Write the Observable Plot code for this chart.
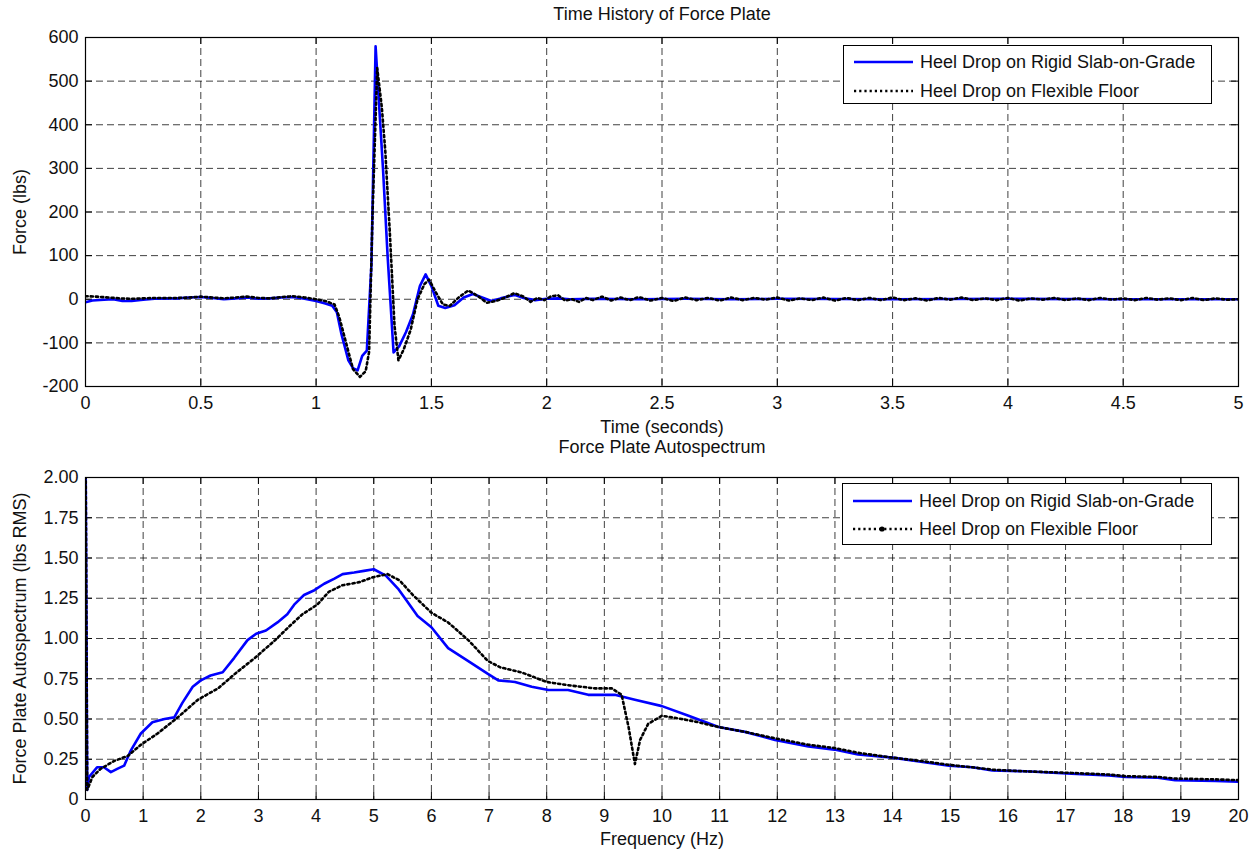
<!DOCTYPE html>
<html>
<head>
<meta charset="utf-8">
<script src="https://cdn.jsdelivr.net/npm/d3@7"></script>
<script src="https://cdn.jsdelivr.net/npm/@observablehq/plot@0.6"></script>
<style>
  html, body { margin: 0; padding: 0; background: #fff; }
  #root { position: relative; width: 1253px; height: 852px; font-family: "Liberation Sans", Arial, Helvetica, sans-serif; }
  .chart { position: absolute; left: 0; }
  .legend { position: absolute; background: #fff; border: 1.3px solid #000; box-sizing: border-box; font-size: 18px; color: #111; }
  .legend .row { position: absolute; left: 0; height: 24px; line-height: 24px; white-space: nowrap; }
  .legend svg { position: absolute; left: 0; top: 0; }
  .legend span { position: absolute; left: 76px; }
</style>
</head>
<body>
<div id="root"></div>
<script>
// ---------- Top chart: time history of force plate ----------
const seriesNames = ["Heel Drop on Rigid Slab-on-Grade", "Heel Drop on Flexible Floor"];

const rigidTime = [0, 0.03, 0.08, 0.12, 0.16, 0.2, 0.25, 0.3, 0.4, 0.45, 0.5, 0.55, 0.6, 0.65, 0.7, 0.75, 0.8, 0.85, 0.9, 0.95,
  1.0, 1.04, 1.07, 1.09, 1.11, 1.14, 1.16, 1.18, 1.2, 1.22, 1.24, 1.258, 1.275, 1.29, 1.31, 1.336, 1.36, 1.39, 1.42, 1.45,
  1.475, 1.5, 1.53, 1.56, 1.6, 1.64, 1.68, 1.72, 1.76, 1.8, 1.86, 1.9, 1.95, 2.0, 2.05, 2.1, 2.2, 2.4, 2.6, 2.8, 3.0, 3.5, 4.0, 4.5, 5.0];
const rigidForce = [-7, -3, -1, 0, -4, -4, -1, 1, 2, 4, 5, 3, 0, 2, 4, 1, 2, 4, 5, 1,
  -4, -10, -15, -30, -80, -140, -158, -163, -130, -118, 80, 580, 430, 300, 100, -122, -108, -75, -35, 30,
  57, 30, -15, -20, -14, 4, 12, 4, -4, 2, 10, 3, -2, 1, 2, 0, 1, 0, 1, 0, 1, 0, 1, 0, 0];

const flexTime = [0, 0.05, 0.1, 0.15, 0.2, 0.25, 0.3, 0.4, 0.45, 0.5, 0.55, 0.6, 0.65, 0.7, 0.75, 0.8, 0.85, 0.9, 0.95,
  1.0, 1.04, 1.08, 1.1, 1.13, 1.16, 1.19, 1.215, 1.23, 1.245, 1.265, 1.285, 1.3, 1.32, 1.34, 1.357, 1.38, 1.41, 1.44, 1.47,
  1.49, 1.52, 1.55, 1.58, 1.62, 1.66, 1.7, 1.74, 1.78, 1.82, 1.86, 1.9, 1.93, 1.96, 1.99, 2.02, 2.05, 2.08, 2.11, 2.14,
  2.17, 2.2, 2.24, 2.28, 2.32, 2.36, 2.4, 2.45, 2.5, 2.55, 2.6, 2.65, 2.7, 2.75, 2.8, 2.85, 2.9, 2.95, 3.0, 3.05, 3.1,
  3.15, 3.2, 3.25, 3.3, 3.35, 3.4, 3.45, 3.5, 3.55, 3.6, 3.65, 3.7, 3.75, 3.8, 3.85, 3.9, 3.95, 4.0, 4.05, 4.1, 4.15,
  4.2, 4.25, 4.3, 4.35, 4.4, 4.45, 4.5, 4.55, 4.6, 4.65, 4.7, 4.75, 4.8, 4.85, 4.9, 4.95, 5.0];
const flexForce = [7, 6, 4, 2, 1, 2, 3, 3, 4, 6, 4, 2, 4, 6, 3, 2, 5, 7, 4,
  0, -4, -12, -40, -100, -160, -178, -165, -120, 200, 530, 440, 340, 150, -60, -140, -115, -70, 0, 35,
  45, 15, -12, -15, 5, 20, 8, -8, -4, 4, 14, 6, -6, 3, -2, 7, 9, -3, 0, -6,
  3, -2, 6, -3, 4, -2, 5, -3, 3, -4, 4, -2, 3, -3, 4, -2, 3, -1, 4, -3, 2,
  -2, 4, -3, 3, -2, 3, -2, 4, -2, 2, -3, 3, -1, 4, -2, 2, -2, 3, -3, 2, -1,
  3, -2, 2, -2, 3, -1, 2, -2, 3, -1, 2, -2, 3, -2, 2, -1, 0];

const timeTicks = [0, 0.5, 1, 1.5, 2, 2.5, 3, 3.5, 4, 4.5, 5];
const forceTicks = [-200, -100, 0, 100, 200, 300, 400, 500, 600];

// ---------- Bottom chart: autospectrum ----------
const rigidFreq = [0, 0.03, 0.06, 0.2, 0.32, 0.44, 0.55, 0.67, 0.78, 0.96, 1.16, 1.37, 1.54, 1.68, 1.86, 2.0, 2.17, 2.38, 2.58,
  2.81, 2.96, 3.13, 3.33, 3.5, 3.62, 3.79, 3.97, 4.14, 4.31, 4.46, 4.66, 4.83, 5.0, 5.21, 5.42, 5.56, 5.76, 6.0, 6.29, 6.64,
  6.98, 7.16, 7.45, 7.74, 8.03, 8.37, 8.72, 9.18, 9.53, 10.0, 10.46, 10.98, 11.44, 11.96, 12.54, 12.99, 13.4, 14.0, 14.58,
  14.98, 15.38, 15.73, 16.3, 17.1, 17.75, 18.04, 18.6, 18.9, 19.6, 20];
const rigidAmp = [2.3, 0.06, 0.14, 0.2, 0.2, 0.17, 0.19, 0.21, 0.3, 0.41, 0.48, 0.5, 0.51, 0.6, 0.7, 0.74, 0.77, 0.79, 0.88,
  0.99, 1.03, 1.05, 1.1, 1.15, 1.21, 1.27, 1.3, 1.34, 1.37, 1.4, 1.41, 1.42, 1.43, 1.39, 1.31, 1.24, 1.14, 1.07, 0.94, 0.86,
  0.78, 0.74, 0.73, 0.7, 0.68, 0.68, 0.65, 0.65, 0.62, 0.58, 0.52, 0.45, 0.42, 0.37, 0.33, 0.31, 0.28, 0.26, 0.23,
  0.21, 0.2, 0.18, 0.175, 0.16, 0.15, 0.14, 0.135, 0.12, 0.115, 0.11];

const flexFreq = [0, 0.03, 0.12, 0.26, 0.5, 0.73, 0.96, 1.25, 1.6, 1.95, 2.3, 2.59, 2.94, 3.29, 3.52, 3.76, 4.02, 4.22, 4.45,
  4.75, 4.98, 5.24, 5.45, 5.68, 6.0, 6.29, 6.64, 6.98, 7.2, 7.56, 8.0, 8.37, 8.84, 9.13, 9.3, 9.42, 9.53, 9.62, 9.76, 10.0,
  10.34, 10.63, 10.98, 11.44, 11.96, 12.54, 12.99, 13.4, 14.0, 14.58, 14.98, 15.38, 15.73, 16.3, 17.1, 17.75, 18.04, 18.6,
  18.9, 19.6, 20];
const flexAmp = [2.3, 0.06, 0.14, 0.19, 0.24, 0.27, 0.34, 0.41, 0.51, 0.62, 0.69, 0.78, 0.88, 0.99, 1.07, 1.15, 1.21, 1.29, 1.33,
  1.35, 1.38, 1.4, 1.36, 1.27, 1.16, 1.1, 0.99, 0.86, 0.82, 0.79, 0.73, 0.71, 0.69, 0.69, 0.65, 0.45, 0.22, 0.37, 0.47, 0.52,
  0.5, 0.48, 0.45, 0.42, 0.38, 0.34, 0.32, 0.29, 0.26, 0.235, 0.215, 0.2, 0.185, 0.175, 0.165, 0.155, 0.145, 0.14,
  0.13, 0.125, 0.12];

const freqTicks = d3.range(0, 21);
const ampTicks = [0, 0.25, 0.5, 0.75, 1, 1.25, 1.5, 1.75, 2];

// ---------- build tables ----------
const rigidHistory = rigidTime.map((t, i) => ({t, f: rigidForce[i]}));
const flexHistory = flexTime.map((t, i) => ({t, f: flexForce[i]}));
const rigidSpec = rigidFreq.map((x, i) => ({x, y: rigidAmp[i]}));
const flexSpec = flexFreq.map((x, i) => ({x, y: flexAmp[i]}));

const FONT = '"Liberation Sans", Arial, Helvetica, sans-serif';
const BLUE = "#0000ff";
const gridStyle = {stroke: "#000", strokeOpacity: 0.75, strokeDasharray: "7,4", strokeWidth: 1};
const TICK = 7;

function makeChart({height, marginTop, marginBottom, xDomain, yDomain, xTicks, yTicks, yFormat,
                    data1, data2, xKey, yKey, title, xLabel, yLabel, titleDy, xLabelDy}) {
  const frameW = 1253 - 85 - 15;
  const frameH = height - marginTop - marginBottom;
  return Plot.plot({
    width: 1253, height, marginTop, marginBottom, marginLeft: 85, marginRight: 15,
    style: {fontFamily: FONT, fontSize: "18px", color: "#111", background: "#fff", overflow: "visible"},
    x: {domain: xDomain, ticks: xTicks, label: null},
    y: {domain: yDomain, ticks: yTicks, label: null},
    marks: [
      Plot.gridX(xTicks, gridStyle),
      Plot.gridY(yTicks, gridStyle),
      // inward tick marks on all four sides
      Plot.tickX(xTicks, {x: d => d, insetTop: frameH - TICK, stroke: "#000"}),
      Plot.tickX(xTicks, {x: d => d, insetBottom: frameH - TICK, stroke: "#000"}),
      Plot.tickY(yTicks, {y: d => d, insetRight: frameW - TICK, stroke: "#000"}),
      Plot.tickY(yTicks, {y: d => d, insetLeft: frameW - TICK, stroke: "#000"}),
      Plot.axisX(xTicks, {tickSize: 0, tickPadding: 10, label: null, fontSize: 18, tickFormat: d => String(d)}),
      Plot.axisY(yTicks, {tickSize: 0, tickPadding: 7, label: null, fontSize: 18, tickFormat: yFormat}),
      Plot.lineY(data1, {x: xKey, y: yKey, stroke: BLUE, strokeWidth: 2.6, clip: true, curve: "linear"}),
      Plot.lineY(data2, {x: xKey, y: yKey, stroke: "#000", strokeWidth: 2.6, strokeDasharray: "2.2,3", clip: true, curve: "linear"}),
      Plot.frame({stroke: "#000", strokeWidth: 1.2}),
      Plot.text([title], {frameAnchor: "top", dy: titleDy, fontSize: 18, lineAnchor: "middle", textAnchor: "middle", fill: "#111"}),
      Plot.text([xLabel], {frameAnchor: "bottom", dy: xLabelDy, fontSize: 18, lineAnchor: "middle", textAnchor: "middle", fill: "#111"}),
      Plot.text([yLabel], {frameAnchor: "left", dx: -65, rotate: -90, fontSize: 18, lineAnchor: "middle", textAnchor: "middle", fill: "#111"})
    ]
  });
}

const root = document.getElementById("root");

const top1 = makeChart({
  height: 440, marginTop: 37, marginBottom: 54,
  xDomain: [0, 5], yDomain: [-200, 600], xTicks: timeTicks, yTicks: forceTicks, yFormat: d => String(d),
  data1: rigidHistory, data2: flexHistory, xKey: "t", yKey: "f",
  title: "Time History of Force Plate", xLabel: "Time (seconds)", yLabel: "Force (lbs)",
  titleDy: -23, xLabelDy: 41
});
top1.classList.add("chart");
top1.style.top = "0px";
root.appendChild(top1);

const bottom1 = makeChart({
  height: 412, marginTop: 37, marginBottom: 53,
  xDomain: [0, 20], yDomain: [0, 2], xTicks: freqTicks, yTicks: ampTicks,
  yFormat: d => d === 0 ? "0" : d.toFixed(2),
  data1: rigidSpec, data2: flexSpec, xKey: "x", yKey: "y",
  title: "Force Plate Autospectrum", xLabel: "Frequency (Hz)", yLabel: "Force Plate Autospectrum (lbs RMS)",
  titleDy: -30, xLabelDy: 40
});
bottom1.classList.add("chart");
bottom1.style.top = "440px";
root.appendChild(bottom1);

// ---------- legends ----------
function legend(left, top, w, h, rows, withDot) {
  const box = document.createElement("div");
  box.className = "legend";
  Object.assign(box.style, {left: left + "px", top: top + "px", width: w + "px", height: h + "px"});
  const svgNS = "http://www.w3.org/2000/svg";
  const svg = document.createElementNS(svgNS, "svg");
  svg.setAttribute("width", w); svg.setAttribute("height", h);
  rows.forEach((cy, i) => {
    const ln = document.createElementNS(svgNS, "line");
    ln.setAttribute("x1", 10); ln.setAttribute("x2", 69);
    ln.setAttribute("y1", cy); ln.setAttribute("y2", cy);
    ln.setAttribute("stroke", i === 0 ? BLUE : "#000");
    ln.setAttribute("stroke-width", 2.6);
    if (i === 1) ln.setAttribute("stroke-dasharray", "2.2,3");
    svg.appendChild(ln);
    if (i === 1 && withDot) {
      const c = document.createElementNS(svgNS, "circle");
      c.setAttribute("cx", 39); c.setAttribute("cy", cy); c.setAttribute("r", 2.6); c.setAttribute("fill", "#000");
      svg.appendChild(c);
    }
    const row = document.createElement("div");
    row.className = "row";
    row.style.top = (cy - 12) + "px";
    row.style.width = w + "px";
    const s = document.createElement("span");
    s.textContent = seriesNames[i];
    row.appendChild(s);
    box.appendChild(row);
  });
  box.insertBefore(svg, box.firstChild);
  root.appendChild(box);
}
legend(843, 45, 369, 59, [16, 45], false);
legend(842, 483, 370, 62, [17, 45], true);
</script>
</body>
</html>
